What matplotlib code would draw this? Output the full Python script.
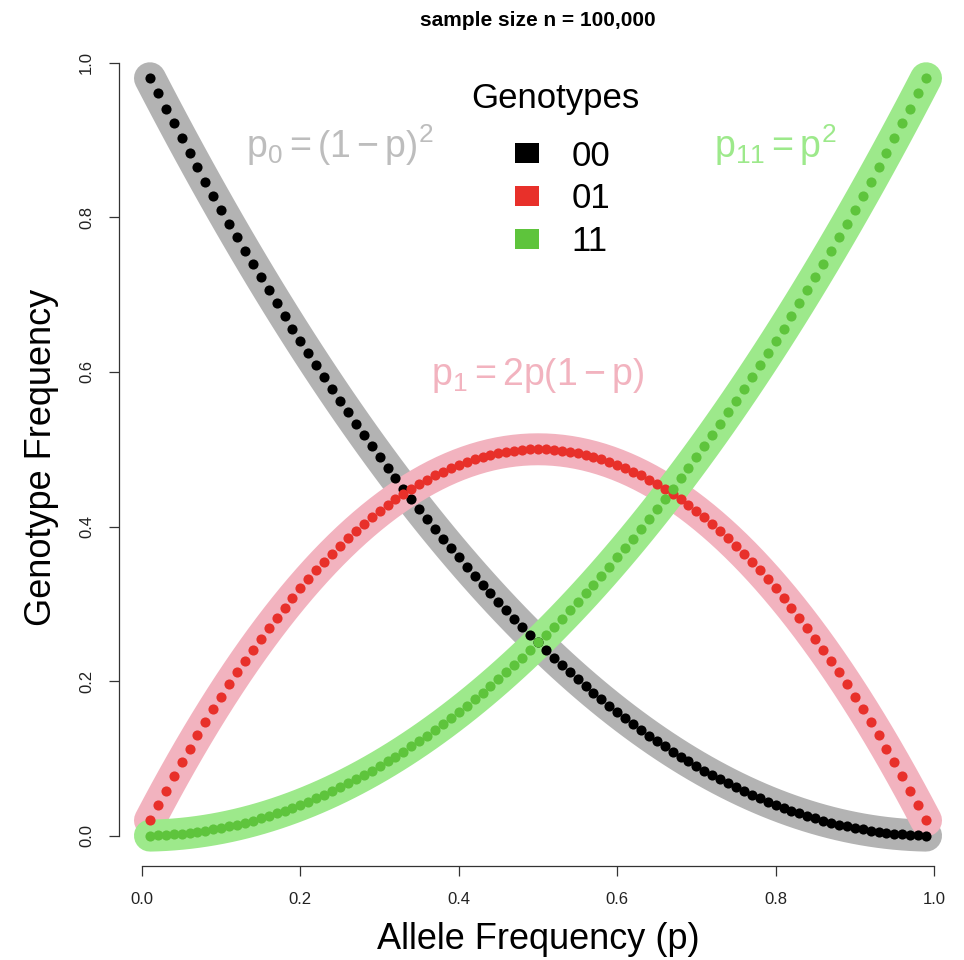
import matplotlib
matplotlib.use("Agg")
import matplotlib.pyplot as plt
from matplotlib.patches import Patch

plt.rcParams['font.family'] = ['Liberation Sans', 'DejaVu Sans']
plt.rcParams['mathtext.fontset'] = 'custom'
plt.rcParams['mathtext.rm'] = 'Liberation Sans'
plt.rcParams['mathtext.it'] = 'Liberation Sans'
plt.rcParams['mathtext.default'] = 'regular'

# ---- data ----
allele_freq = [0.01, 0.02, 0.03, 0.04, 0.05, 0.06, 0.07, 0.08, 0.09, 0.10,
               0.11, 0.12, 0.13, 0.14, 0.15, 0.16, 0.17, 0.18, 0.19, 0.20,
               0.21, 0.22, 0.23, 0.24, 0.25, 0.26, 0.27, 0.28, 0.29, 0.30,
               0.31, 0.32, 0.33, 0.34, 0.35, 0.36, 0.37, 0.38, 0.39, 0.40,
               0.41, 0.42, 0.43, 0.44, 0.45, 0.46, 0.47, 0.48, 0.49, 0.50,
               0.51, 0.52, 0.53, 0.54, 0.55, 0.56, 0.57, 0.58, 0.59, 0.60,
               0.61, 0.62, 0.63, 0.64, 0.65, 0.66, 0.67, 0.68, 0.69, 0.70,
               0.71, 0.72, 0.73, 0.74, 0.75, 0.76, 0.77, 0.78, 0.79, 0.80,
               0.81, 0.82, 0.83, 0.84, 0.85, 0.86, 0.87, 0.88, 0.89, 0.90,
               0.91, 0.92, 0.93, 0.94, 0.95, 0.96, 0.97, 0.98, 0.99]

freq_11 = [0.0001, 0.0004, 0.0009, 0.0016, 0.0025, 0.0036, 0.0049, 0.0064, 0.0081, 0.0100,
           0.0121, 0.0144, 0.0169, 0.0196, 0.0225, 0.0256, 0.0289, 0.0324, 0.0361, 0.0400,
           0.0441, 0.0484, 0.0529, 0.0576, 0.0625, 0.0676, 0.0729, 0.0784, 0.0841, 0.0900,
           0.0961, 0.1024, 0.1089, 0.1156, 0.1225, 0.1296, 0.1369, 0.1444, 0.1521, 0.1600,
           0.1681, 0.1764, 0.1849, 0.1936, 0.2025, 0.2116, 0.2209, 0.2304, 0.2401, 0.2500,
           0.2601, 0.2704, 0.2809, 0.2916, 0.3025, 0.3136, 0.3249, 0.3364, 0.3481, 0.3600,
           0.3721, 0.3844, 0.3969, 0.4096, 0.4225, 0.4356, 0.4489, 0.4624, 0.4761, 0.4900,
           0.5041, 0.5184, 0.5329, 0.5476, 0.5625, 0.5776, 0.5929, 0.6084, 0.6241, 0.6400,
           0.6561, 0.6724, 0.6889, 0.7056, 0.7225, 0.7396, 0.7569, 0.7744, 0.7921, 0.8100,
           0.8281, 0.8464, 0.8649, 0.8836, 0.9025, 0.9216, 0.9409, 0.9604, 0.9801]

freq_00 = [0.9801, 0.9604, 0.9409, 0.9216, 0.9025, 0.8836, 0.8649, 0.8464, 0.8281, 0.8100,
           0.7921, 0.7744, 0.7569, 0.7396, 0.7225, 0.7056, 0.6889, 0.6724, 0.6561, 0.6400,
           0.6241, 0.6084, 0.5929, 0.5776, 0.5625, 0.5476, 0.5329, 0.5184, 0.5041, 0.4900,
           0.4761, 0.4624, 0.4489, 0.4356, 0.4225, 0.4096, 0.3969, 0.3844, 0.3721, 0.3600,
           0.3481, 0.3364, 0.3249, 0.3136, 0.3025, 0.2916, 0.2809, 0.2704, 0.2601, 0.2500,
           0.2401, 0.2304, 0.2209, 0.2116, 0.2025, 0.1936, 0.1849, 0.1764, 0.1681, 0.1600,
           0.1521, 0.1444, 0.1369, 0.1296, 0.1225, 0.1156, 0.1089, 0.1024, 0.0961, 0.0900,
           0.0841, 0.0784, 0.0729, 0.0676, 0.0625, 0.0576, 0.0529, 0.0484, 0.0441, 0.0400,
           0.0361, 0.0324, 0.0289, 0.0256, 0.0225, 0.0196, 0.0169, 0.0144, 0.0121, 0.0100,
           0.0081, 0.0064, 0.0049, 0.0036, 0.0025, 0.0016, 0.0009, 0.0004, 0.0001]

freq_01 = [0.0198, 0.0392, 0.0582, 0.0768, 0.0950, 0.1128, 0.1302, 0.1472, 0.1638, 0.1800,
           0.1958, 0.2112, 0.2262, 0.2408, 0.2550, 0.2688, 0.2822, 0.2952, 0.3078, 0.3200,
           0.3318, 0.3432, 0.3542, 0.3648, 0.3750, 0.3848, 0.3942, 0.4032, 0.4118, 0.4200,
           0.4278, 0.4352, 0.4422, 0.4488, 0.4550, 0.4608, 0.4662, 0.4712, 0.4758, 0.4800,
           0.4838, 0.4872, 0.4902, 0.4928, 0.4950, 0.4968, 0.4982, 0.4992, 0.4998, 0.5000,
           0.4998, 0.4992, 0.4982, 0.4968, 0.4950, 0.4928, 0.4902, 0.4872, 0.4838, 0.4800,
           0.4758, 0.4712, 0.4662, 0.4608, 0.4550, 0.4488, 0.4422, 0.4352, 0.4278, 0.4200,
           0.4118, 0.4032, 0.3942, 0.3848, 0.3750, 0.3648, 0.3542, 0.3432, 0.3318, 0.3200,
           0.3078, 0.2952, 0.2822, 0.2688, 0.2550, 0.2408, 0.2262, 0.2112, 0.1958, 0.1800,
           0.1638, 0.1472, 0.1302, 0.1128, 0.0950, 0.0768, 0.0582, 0.0392, 0.0198]

genotypes = ['00', '01', '11']
x_ticks = [0.0, 0.2, 0.4, 0.6, 0.8, 1.0]
y_ticks = [0.0, 0.2, 0.4, 0.6, 0.8, 1.0]

band_colors = ['#b3b3b3', '#f2b3bf', '#9de98b']
point_colors = ['#000000', '#e8302a', '#5ec43c']
text_colors = ['#bdbdbd', '#f2b3bf', '#9de98b']

fig = plt.figure(figsize=(9.64, 9.6), dpi=100)
ax = fig.add_axes([118.9 / 964, 94 / 960, 838.2 / 964, 818 / 960])

series = [freq_00, freq_01, freq_11]
for vals, c in zip(series, band_colors):
    ax.plot(allele_freq, vals, color=c, lw=23, solid_capstyle='round',
            solid_joinstyle='round', zorder=1)
for vals, c in zip(series, point_colors):
    ax.plot(allele_freq, vals, linestyle='none', marker='o', markersize=7.3,
            markerfacecolor=c, markeredgecolor=c, markeredgewidth=0, zorder=2)

ax.set_xlim(-0.0292, 1.0292)
ax.set_ylim(-0.0392, 1.0192)

for s in ['top', 'right']:
    ax.spines[s].set_visible(False)
ax.spines['left'].set_bounds(0, 1)
ax.spines['bottom'].set_bounds(0, 1)
for s in ['left', 'bottom']:
    ax.spines[s].set_color('#333333')
    ax.spines[s].set_linewidth(0.9)

ax.set_xticks(x_ticks)
ax.set_yticks(y_ticks)
ax.set_xticklabels([f'{v:.1f}' for v in x_ticks])
ax.set_yticklabels([f'{v:.1f}' for v in y_ticks], rotation=90, va='center')
ax.tick_params(axis='both', direction='out', length=7, width=0.9,
               color='#333333', labelsize=12, labelcolor='#222222')
ax.tick_params(axis='x', pad=12)
ax.tick_params(axis='y', pad=11)

ax.set_xlabel('Allele Frequency (p)', fontsize=26)
ax.xaxis.set_label_coords(0.5, -0.068)
ax.set_ylabel('Genotype Frequency', fontsize=26)
ax.yaxis.set_label_coords(-0.072, 0.5)

ax.set_title('sample size n = 100,000', fontsize=15, fontweight='bold', pad=16)

ax.text(0.25, 0.894, r'$p_0 = \left(1 - p\right)^2$', color=text_colors[0],
        fontsize=27, ha='center', va='center')
ax.text(0.499, 0.596, r'$p_1 = 2p\left(1 - p\right)$', color=text_colors[1],
        fontsize=27, ha='center', va='center')
ax.text(0.80, 0.894, r'$p_{11} = p^2$', color=text_colors[2], fontsize=27,
        ha='center', va='center')

# legend title and entries
ax.text(0.5203, 0.938, 'Genotypes', fontsize=25, ha='center', va='center',
        transform=ax.transAxes)
handles = [Patch(facecolor=c, edgecolor='none') for c in point_colors]
leg = ax.legend(handles, genotypes, loc='upper left',
                bbox_to_anchor=(0.472, 0.888), frameon=False, fontsize=25,
                handlelength=0.7, handleheight=0.5, borderpad=0, borderaxespad=0,
                handletextpad=0.95, labelspacing=0.28)

fig.savefig('out.png', dpi=100)
